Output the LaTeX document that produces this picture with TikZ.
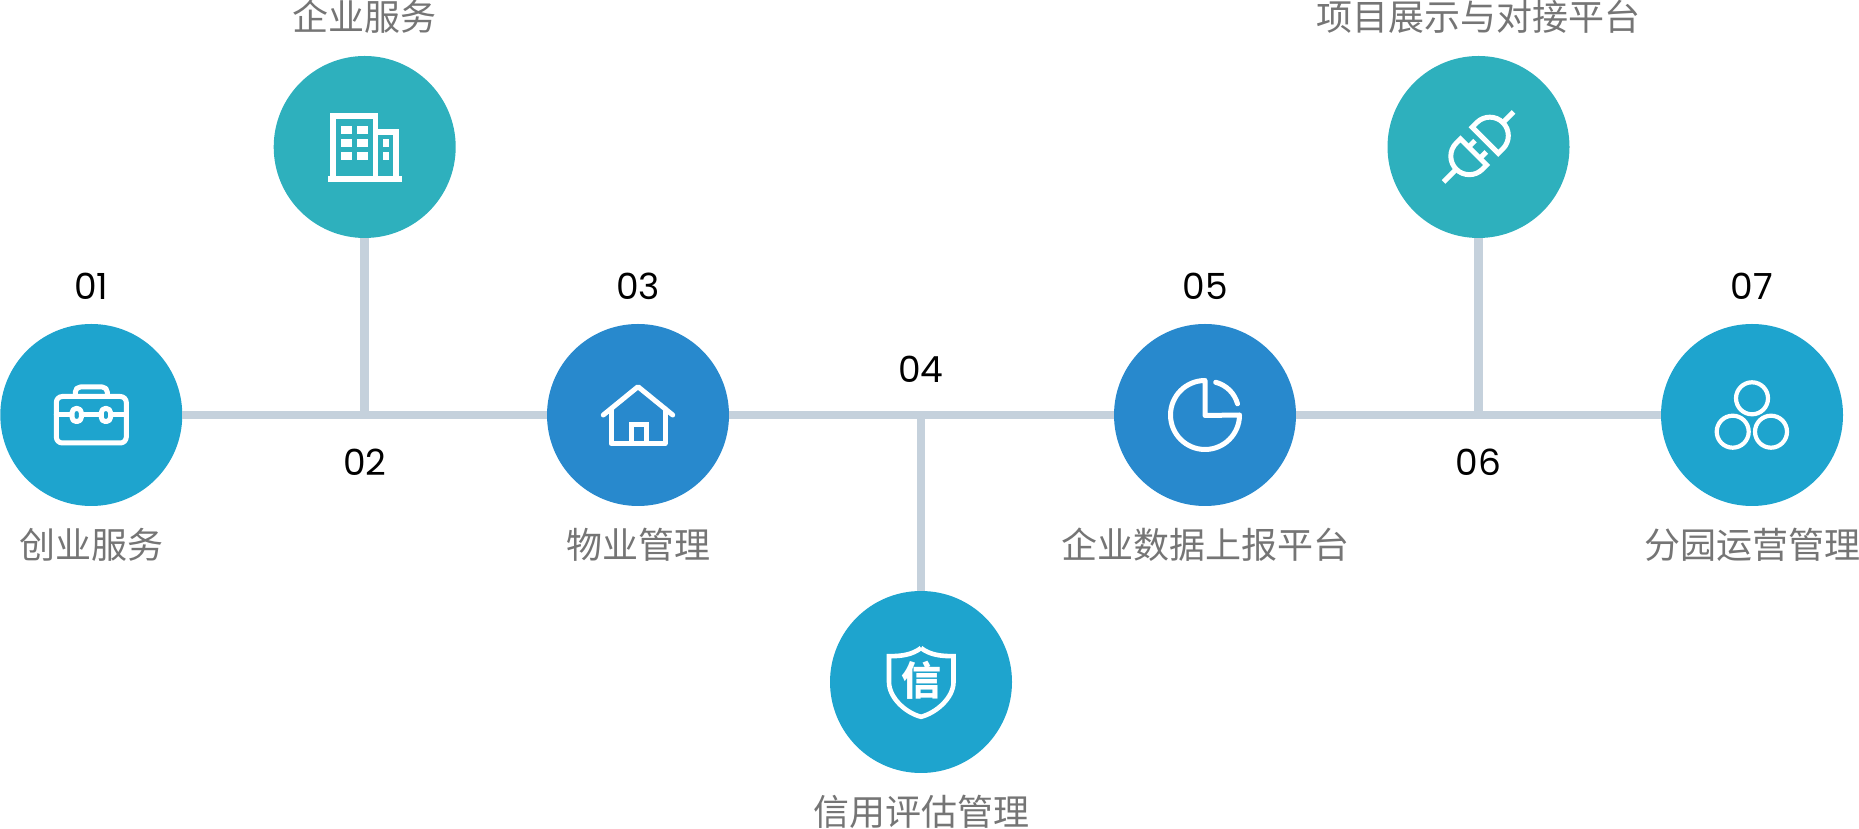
\documentclass[tikz,border=0pt]{standalone}
\usepackage{fontspec}
\newfontfamily\cjk{Noto Sans CJK SC}
\newfontfamily\numfont{Poppins}
\definecolor{bluecirc}{HTML}{1EA4CE}
\definecolor{tealcirc}{HTML}{2EB0BD}
\definecolor{darkcirc}{HTML}{2889CD}
\definecolor{linkcol}{HTML}{C5D1DC}
\definecolor{textcol}{HTML}{757575}
\tikzset{
	circ/.style={circle,minimum size=182pt,inner sep=0pt,outer sep=0pt,fill=#1},
	link/.style={draw=linkcol,line width=8.6pt},
	icon/.style={draw=white,line width=5pt,line join=round,line cap=round},
	num/.style={inner sep=0pt,font=\fontsize{36}{36}\numfont},
	caption/.style={inner sep=0pt,text=textcol,font=\fontsize{36}{36}\cjk}
}
\begin{document}
\begin{tikzpicture}[x=1pt,y=1pt] % 1 unit = 1 pixel
	\useasboundingbox (0,0) rectangle (1859,829);
	\node[circ=bluecirc] (c1) at (91.3,414) {};
	\node[circ=tealcirc] (c2) at (364.7,682) {};
	\node[circ=darkcirc] (c3) at (638,414) {};
	\node[circ=bluecirc] (c4) at (921,147) {};
	\node[circ=darkcirc] (c5) at (1205,414) {};
	\node[circ=tealcirc] (c6) at (1478.5,682) {};
	\node[circ=bluecirc] (c7) at (1752,414) {};
	\coordinate (j2) at (c2 |- c1);
	\coordinate (j4) at (c4 |- c1);
	\coordinate (j6) at (c6 |- c1);
	\draw[link] (c1) -- (c3);
	\draw[link] (c3) -- (c5);
	\draw[link] (c5) -- (c7);
	\draw[link] (c2) -- (j2);
	\draw[link] (c4) -- (j4);
	\draw[link] (c6) -- (j6);
	% numbers
	\node[num] (n1) at (91.3,543) {01};
	\node[num] (n2) at (364.7,367) {02};
	\node[num] (n3) at (638,543) {03};
	\node[num] (n4) at (921,460) {04};
	\node[num] (n5) at (1205,543) {05};
	\node[num] (n6) at (1478.5,367) {06};
	\node[num] (n7) at (1752,543) {07};
	% captions
	\node[caption] (t1) at (91.3,284) {创业服务};
	\node[caption] (t2) at (364.7,812) {企业服务};
	\node[caption] (t3) at (638,284) {物业管理};
	\node[caption] (t4) at (921,17) {信用评估管理};
	\node[caption] (t5) at (1205,284) {企业数据上报平台};
	\node[caption] (t6) at (1478.5,812) {项目展示与对接平台};
	\node[caption] (t7) at (1752,284) {分园运营管理};
	% case
	\begin{scope}[shift={(c1)}]
		\draw[icon,rounded corners=6pt] (-35,-28) rectangle (35,18.5);
		\draw[icon,rounded corners=5pt] (-16,18.5) -- (-16,28) -- (16,28) -- (16,18.5);
		\draw[icon] (-35,0) -- (35,0);
		\draw[icon,fill=bluecirc,rounded corners=4pt] (-19.2,-6.5) rectangle (-10,6.5);
		\draw[icon,fill=bluecirc,rounded corners=4pt] (10,-6.5) rectangle (19.2,6.5);
	\end{scope}
	% building
	\begin{scope}[shift={(c2)}]
		\draw[icon,line cap=butt,line join=miter,line width=5.8pt] (-31.7,-32) -- (-31.7,31) -- (10.8,31) -- (10.8,-32);
		\draw[icon,line cap=butt,line join=miter,line width=5.8pt] (10.8,15) -- (31.3,15) -- (31.3,-32);
		\draw[icon,line cap=butt,line width=5.8pt] (-36.7,-32) -- (37,-32);
		\foreach \y in {13,0,-13.3}{
			\fill[white] (-23.7,\y) rectangle +(11,8);
			\fill[white] (-8,\y) rectangle +(11,8);
		}
		\foreach \y in {0,-13.3}
			\fill[white] (18.3,\y) rectangle +(6,8);
	\end{scope}
	% house
	\begin{scope}[shift={(c3)}]
		\draw[icon] (-34.7,0) -- (0,28.3) -- (34.7,0);
		\draw[icon] (-27,6) -- (-27,-28.7) -- (27,-28.7) -- (27,6);
		\draw[icon,line cap=butt,line join=miter] (-6.5,-28.7) -- (-6.5,-10) -- (8.5,-10) -- (8.5,-28.7);
	\end{scope}
	% shield
	\begin{scope}[shift={(c4)}]
		\draw[icon,line width=4.6pt,line join=miter,line cap=butt] (0,34) .. controls (9,27) and (20,25.8) .. (32.5,25.8) -- (32.5,0) .. controls (32.5,-16) and (15,-31) .. (0,-34.8) .. controls (-15,-31) and (-32,-16) .. (-32,0) -- (-32,25.8) .. controls (-20,25.8) and (-9,27) .. (0,34);
		\node[inner sep=0pt,text=white,font=\fontsize{40}{40}\cjk\bfseries] (xin) at (0,1.5) {信};
	\end{scope}
	% pie
	\begin{scope}[shift={(c5)}]
		\draw[icon] (0,34.5) arc[start angle=90,end angle=360,radius=34.5pt] -- (0,-0.5) -- cycle;
		\draw[icon] (10.7,32.7) arc[start angle=75.5,end angle=15.3,radius=30.5pt];
	\end{scope}
	% plug
	\begin{scope}[shift={(c6)},rotate=45]
		\draw[icon,line cap=butt,line join=miter] (9.5,18.5) -- (16,18.5) arc[start angle=90,end angle=-90,radius=18.5pt] -- (9.5,-18.5) -- cycle;
		\draw[icon,line cap=butt] (34,0) -- (49.5,0);
		\draw[icon,line cap=butt,line join=miter] (-7,18.5) -- (-13,18.5) arc[start angle=90,end angle=270,radius=18.5pt] -- (-7,-18.5) -- cycle;
		\draw[icon,line cap=butt] (-31,0) -- (-49.5,0);
		\draw[icon,line cap=butt] (-7,7) -- (2,7);
		\draw[icon,line cap=butt] (-7,-9) -- (2,-9);
	\end{scope}
	% three rings
	\begin{scope}[shift={(c7)}]
		\draw[icon,line width=4.2pt] (0,16.7) circle[radius=16pt];
		\draw[icon,line width=4.2pt] (-19.3,-16.7) circle[radius=16pt];
		\draw[icon,line width=4.2pt] (19,-16.7) circle[radius=16pt];
	\end{scope}
\end{tikzpicture}
\end{document}
